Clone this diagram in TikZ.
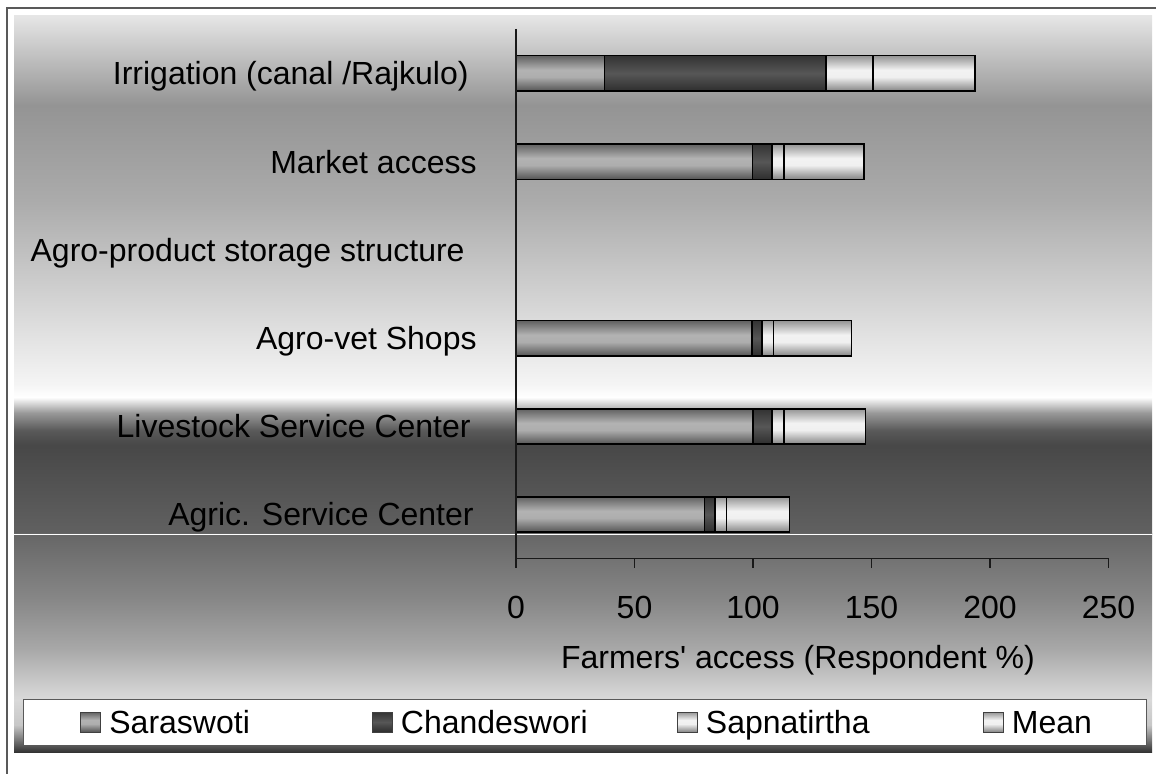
\documentclass[tikz,border=0pt]{standalone}
\usepackage{fontspec}
\newfontfamily\chartfont{Liberation Sans}
\usetikzlibrary{positioning}

% chart area bands (bottom 25bp .. top 75bp)
\pgfdeclareverticalshading{plotbg}{100bp}{color(0bp)=(black!62); color(25bp)=(black!62);
  color(33.6bp)=(black!72); color(35bp)=(black!65); color(36.7bp)=(black!40); color(38.2bp)=(white);
  color(39.4bp)=(black!4); color(45.7bp)=(black!14); color(57.2bp)=(black!33);
  color(66.4bp)=(black!42); color(75bp)=(black!10); color(100bp)=(black!10)}
\pgfdeclareverticalshading{footbg}{100bp}{color(0bp)=(black!80); color(25bp)=(black!80);
  color(27.8bp)=(black!53); color(31.2bp)=(black!22); color(37bp)=(black!15);
  color(39.3bp)=(black!18); color(48.5bp)=(black!34); color(60bp)=(black!47);
  color(75bp)=(black!60); color(100bp)=(black!60)}
% series fills
\pgfdeclareverticalshading{sarfill}{100bp}{color(0bp)=(black!67); color(25bp)=(black!67);
  color(45bp)=(black!32); color(55bp)=(black!30); color(75bp)=(black!62); color(100bp)=(black!62)}
\pgfdeclareverticalshading{chafill}{100bp}{color(0bp)=(black!82); color(25bp)=(black!82);
  color(50bp)=(black!66); color(75bp)=(black!80); color(100bp)=(black!80)}
\pgfdeclareverticalshading{sapfill}{100bp}{color(0bp)=(black!48); color(25bp)=(black!48);
  color(45bp)=(black!6); color(55bp)=(black!5); color(75bp)=(black!42); color(100bp)=(black!42)}

\begin{document}
\begin{tikzpicture}[x=0.5pt, y=-0.5pt,
    txt/.style={font=\chartfont\fontsize{16}{19}\selectfont, inner sep=0pt, text height=11.5pt, text depth=0pt},
    seg/.style={draw=black, line width=0.75pt, shade, shading=#1},
    swatch/.style={draw=black!75, line width=0.5pt, shade, shading=#1, minimum size=10pt, inner sep=0pt},
    axis/.style={black!90, line width=0.6pt}]
  \useasboundingbox (0,0) rectangle (1156,774);
  % background
  \shade[shading=plotbg] (14,16) rectangle (1152,534);
  \shade[shading=footbg] (14,534) rectangle (1152,752);
  \draw[white, line width=0.5pt] (14,534.5) -- (1152,534.5);
  \draw[black!65, line width=1pt] (7,774) -- (7,8) -- (1156,8);
  % stacked bars
  \foreach \yc/\a/\b/\c/\d in {73.4/37.3/130.7/150.6/193.7, 161.7/99.7/108.1/113.0/146.9,
      338.4/99.5/103.8/108.7/141.6, 426.5/100/108/113/147.4, 514.5/79.6/84/88.9/115.5} {
    \draw[seg=sarfill] (516,\yc-17.7) rectangle (516+2.37*\a,\yc+17.7);
    \draw[seg=chafill] (516+2.37*\a,\yc-17.7) rectangle (516+2.37*\b,\yc+17.7);
    \draw[seg=sapfill] (516+2.37*\b,\yc-17.7) rectangle (516+2.37*\c,\yc+17.7);
    \draw[seg=sapfill] (516+2.37*\c,\yc-17.7) rectangle (516+2.37*\d,\yc+17.7);
  }
  % axes
  \draw[axis] (516,29) -- (516,568);
  \draw[axis] (516,558.5) -- (1108.5,558.5);
  \foreach \v in {50,100,...,250} \draw[axis] (516+2.37*\v,558.5) -- ++(0,10);
  \foreach \v in {0,50,...,250} \node[txt] (t\v) at (516+2.37*\v,606.5) {\v};
  \node[txt] (xtitle) at (798,656.5) {Farmers' access (Respondent \%)};
  % categories
  \node[txt, anchor=east] (irr)   at (469,73.4)  {Irrigation (canal /Rajkulo)};
  \node[txt, anchor=east] (mkt)   at (477,161.7) {Market access};
  \node[txt, anchor=east] (store) at (465,250)   {Agro-product storage structure};
  \node[txt, anchor=east] (vet)   at (477,338.4) {Agro-vet Shops};
  \node[txt, anchor=east] (live)  at (471,426.5) {Livestock Service Center};
  \node[txt, anchor=east] (agri)  at (474,514.5) {Agric. Service Center};
  % legend
  \draw[black!65, line width=0.5pt, fill=white] (23,699) rectangle (1146,745);
  \node[swatch=sarfill] (ksar) at (90.5,722) {};
  \node[txt, right=4pt of ksar] (lsar) {Saraswoti};
  \node[swatch=chafill] (kcha) at (382,722) {};
  \node[txt, right=4pt of kcha] (lcha) {Chandeswori};
  \node[swatch=sapfill] (ksap) at (687,722) {};
  \node[txt, right=4pt of ksap] (lsap) {Sapnatirtha};
  \node[swatch=sapfill] (kmean) at (993,722) {};
  \node[txt, right=4pt of kmean] (lmean) {Mean};
\end{tikzpicture}
\end{document}
